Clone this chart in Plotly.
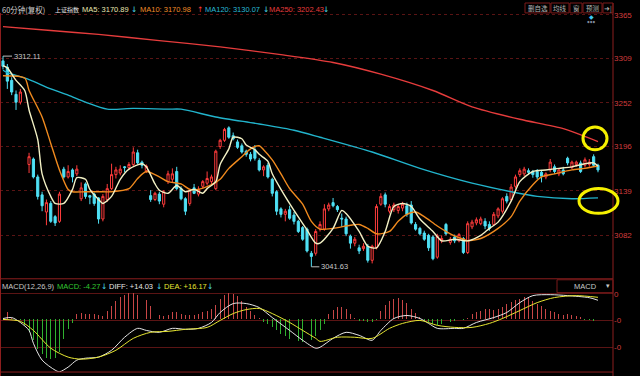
import plotly.graph_objects as go

# ---------------- data ----------------
bar_idx = [0, 1, 2, 3, 4] + list(range(6, 138))

candles = [  # open, high, low, close
    (3306, 3312.11, 3295, 3299), (3298, 3302, 3270, 3280), (3281, 3285, 3262, 3266),
    (3263, 3268, 3243, 3253), (3253, 3270, 3250, 3266),
    (3173, 3188, 3162, 3183), (3180, 3182, 3155, 3157), (3157, 3160, 3128, 3132),
    (3134, 3138, 3113, 3120), (3112, 3128, 3095, 3124), (3123, 3126, 3098, 3100),
    (3106, 3108, 3094, 3098), (3100, 3138, 3098, 3135), (3167, 3170, 3155, 3157),
    (3157, 3172, 3155, 3164), (3166, 3168, 3150, 3157), (3161, 3172, 3158, 3167),
    (3129, 3150, 3126, 3143), (3148, 3150, 3129, 3132), (3133, 3134, 3122, 3131),
    (3135, 3137, 3120, 3123), (3130, 3131, 3097, 3103), (3103, 3135, 3100, 3132),
    (3128, 3148, 3125, 3142), (3142, 3174, 3140, 3160), (3160, 3170, 3155, 3166),
    (3162, 3172, 3159, 3167), (3170, 3171, 3163, 3169), (3169, 3176, 3166, 3173),
    (3173, 3195, 3170, 3189), (3188, 3192, 3173, 3175), (3176, 3178, 3168, 3172),
    (3165, 3173, 3162, 3171), (3133, 3140, 3125, 3128), (3128, 3138, 3126, 3136),
    (3135, 3138, 3122, 3126), (3122, 3140, 3118, 3138), (3151, 3165, 3148, 3161),
    (3154, 3168, 3150, 3161), (3164, 3170, 3140, 3142), (3142, 3145, 3127, 3129),
    (3129, 3131, 3108, 3113), (3123, 3142, 3120, 3140), (3143, 3148, 3135, 3136),
    (3135, 3145, 3132, 3141), (3145, 3153, 3142, 3151), (3149, 3164, 3146, 3155),
    (3151, 3160, 3148, 3157), (3142, 3192, 3140, 3190), (3196, 3206, 3193, 3204),
    (3204, 3220, 3202, 3218), (3220, 3222, 3206, 3208), (3210, 3214, 3204, 3206),
    (3202, 3205, 3193, 3195), (3197, 3200, 3187, 3189), (3190, 3192, 3183, 3186),
    (3186, 3189, 3177, 3180), (3192, 3198, 3178, 3181), (3178, 3181, 3164, 3166),
    (3166, 3172, 3158, 3170), (3172, 3175, 3155, 3157), (3154, 3156, 3132, 3136),
    (3138, 3140, 3108, 3113), (3116, 3118, 3105, 3109), (3109, 3116, 3100, 3113),
    (3115, 3120, 3102, 3104), (3108, 3112, 3096, 3100), (3100, 3102, 3085, 3087),
    (3092, 3094, 3075, 3077), (3090, 3092, 3060, 3062), (3059, 3062, 3041.63, 3055),
    (3059, 3090, 3056, 3087), (3090, 3100, 3087, 3096), (3090, 3122, 3088, 3116),
    (3116, 3124, 3113, 3121), (3124, 3130, 3118, 3120), (3119, 3121, 3112, 3115),
    (3104, 3110, 3093, 3103), (3103, 3106, 3081, 3084), (3081, 3083, 3065, 3072),
    (3072, 3080, 3068, 3077), (3066, 3070, 3058, 3062), (3065, 3072, 3062, 3068),
    (3068, 3071, 3047, 3050), (3050, 3070, 3046, 3068), (3066, 3122, 3064, 3119),
    (3122, 3136, 3120, 3132), (3134, 3137, 3118, 3122), (3113, 3122, 3110, 3119),
    (3115, 3124, 3112, 3121), (3114, 3122, 3110, 3119), (3117, 3125, 3113, 3122),
    (3120, 3124, 3106, 3109), (3121, 3126, 3096, 3098), (3096, 3099, 3088, 3090),
    (3091, 3093, 3082, 3084), (3085, 3088, 3075, 3077), (3082, 3084, 3062, 3066),
    (3080, 3082, 3050, 3052), (3054, 3084, 3052, 3081), (3075, 3082, 3072, 3078),
    (3096, 3098, 3082, 3084), (3073, 3080, 3070, 3077), (3080, 3083, 3072, 3075),
    (3075, 3085, 3073, 3083), (3078, 3080, 3058, 3060), (3060, 3100, 3058, 3097),
    (3093, 3102, 3090, 3099), (3098, 3105, 3095, 3102), (3097, 3106, 3095, 3103),
    (3100, 3104, 3090, 3094), (3096, 3100, 3088, 3091), (3096, 3112, 3094, 3109),
    (3107, 3118, 3104, 3116), (3113, 3131, 3110, 3129), (3132, 3136, 3123, 3126),
    (3128, 3148, 3126, 3144), (3145, 3160, 3142, 3157), (3160, 3168, 3157, 3165),
    (3161, 3170, 3158, 3167), (3165, 3168, 3160, 3163), (3164, 3166, 3156, 3160),
    (3164, 3167, 3154, 3157), (3163, 3166, 3150, 3158), (3157, 3163, 3154, 3161),
    (3166, 3180, 3163, 3176), (3170, 3173, 3161, 3164), (3161, 3168, 3158, 3166),
    (3166, 3170, 3159, 3161), (3181, 3183, 3172, 3175), (3169, 3178, 3167, 3176),
    (3173, 3178, 3170, 3176), (3175, 3178, 3162, 3164), (3172, 3182, 3169, 3179),
    (3173, 3180, 3170, 3176), (3183, 3186, 3170, 3172), (3172, 3174, 3163, 3166),
]
opens = [c[0] for c in candles]
highs = [c[1] for c in candles]
lows = [c[2] for c in candles]
closes = [c[3] for c in candles]

ma5_idx = [0, 1, 3, 5, 6, 8, 9, 11, 12, 14, 16, 17, 19, 20, 22, 23, 25, 27, 29, 32, 33, 35, 36, 38,
           40, 42, 44, 46, 47, 49, 50, 52, 53, 55, 56, 58, 59, 61, 62, 64, 67, 70, 72, 73, 76, 78,
           79, 82, 84, 86, 88, 90, 92, 94, 96, 99, 101, 104, 107, 110, 112, 114, 117, 119, 122,
           125, 128, 131, 134, 136, 137]
ma5 = [3300, 3297, 3281, 3268, 3243, 3205, 3161, 3132, 3123, 3123, 3141, 3156, 3154, 3141, 3128,
       3123, 3132, 3154, 3167, 3174, 3170, 3148, 3140, 3136, 3146, 3138, 3141, 3136, 3142, 3151,
       3173, 3193, 3208, 3206, 3198, 3192, 3186, 3177, 3161, 3141, 3114, 3089, 3072, 3072, 3091,
       3114, 3110, 3087, 3068, 3066, 3087, 3119, 3123, 3119, 3103, 3087, 3075, 3077, 3075, 3082,
       3091, 3099, 3126, 3151, 3164, 3166, 3168, 3170, 3174, 3175, 3170.89]

ma10_idx = [0, 5, 6, 9, 11, 13, 15, 16, 19, 22, 25, 29, 31, 33, 36, 38, 41, 43, 45, 48, 50, 52, 55,
            57, 59, 60, 62, 64, 66, 69, 71, 73, 76, 80, 82, 84, 86, 89, 91, 93, 95, 97, 100, 103,
            106, 107, 110, 114, 117, 119, 122, 124, 127, 131, 134, 137]
ma10 = [3287, 3284, 3268, 3234, 3200, 3166, 3141, 3138, 3138, 3138, 3138, 3142, 3155, 3164, 3157,
        3151, 3148, 3141, 3141, 3147, 3154, 3168, 3183, 3193, 3197, 3192, 3179, 3161, 3142, 3122,
        3100, 3090, 3091, 3095, 3096, 3091, 3084, 3087, 3100, 3109, 3112, 3106, 3094, 3084, 3077,
        3075, 3078, 3091, 3106, 3126, 3147, 3157, 3161, 3166, 3168, 3170.98]

ma120_idx = [0, 1, 6, 11, 15, 19, 24, 30, 38, 41, 49, 59, 67, 73, 85, 96, 108, 117, 123, 131, 137]
ma120 = [3294, 3291, 3282, 3270, 3262, 3253, 3244, 3245, 3244, 3244, 3234, 3225, 3217, 3208, 3189,
         3168, 3149, 3138, 3132, 3129, 3130.07]

ma250_idx = [0, 11, 22, 36, 50, 64, 76, 87, 99, 108, 119, 129, 137]
ma250 = [3350, 3345, 3340, 3332, 3324, 3314, 3304, 3289, 3268, 3247, 3231, 3219, 3202.43]

diff_idx = [0, 2, 4, 6, 7, 9, 12, 13, 15, 17, 19, 22, 25, 28, 31, 33, 36, 39, 42, 45, 48, 50, 53,
            56, 59, 62, 66, 69, 72, 73, 76, 79, 82, 85, 87, 90, 93, 96, 98, 100, 104, 106, 109,
            113, 116, 119, 122, 126, 130, 135, 137]
diff = [0.7, 1.4, -2.2, -8, -17.4, -29.7, -37, -38.2, -34.8, -29.7, -28.3, -27.5, -22.5, -13,
        -6.5, -8, -9.4, -6.5, -7.2, -6.5, -2.2, 5.1, 11.6, 11.6, 8.7, 1.4, -8, -15.2, -21, -20.3,
        -13.8, -9.4, -11.6, -15.2, -8, 0.7, 2.9, 0.7, -2.9, -6.5, -6.5, -6.5, -2.2, 1.4, 5.1,
        12.3, 17.4, 18.1, 17.4, 15.9, 14.03]

dea_idx = [0, 4, 7, 11, 15, 18, 22, 26, 30, 34, 38, 42, 47, 50, 53, 56, 59, 62, 66, 69, 72, 73, 77,
           81, 85, 89, 92, 96, 100, 104, 108, 112, 115, 119, 123, 127, 132, 137]
dea = [0, -1.4, -8, -21, -27.5, -29, -27.5, -22.5, -13.8, -9.4, -8.7, -7.2, -5.8, -0.7, 4.3, 7.2,
       8, 4.3, -2.2, -8, -13.8, -16, -13, -13, -13.8, -6.5, -2.9, -0.7, -4.3, -5.8, -5.8, -2.9,
       0.7, 6.5, 12.3, 16, 17.4, 16.17]

macd_hist = [7.0, 5.3, 1.2, 0.5, -0.5, -4.3, -9.2, -15.2, -21.3, -25.4, -27.8, -29.2, -28.5, -23.7,
             -14.0, -6.8, -2.7, 4.1, 4.8, 4.1, 4.1, 4.1, 2.9, 2.2, 6.5, 10.1, 13.8, 16.2, 18.1,
             19.1, 19.1, 18.1, 16.2, 14.3, 10.1, 5.3, 2.9, 2.2, 2.9, 5.3, 5.3, 4.1, 2.9, 2.9, 3.6,
             4.1, 5.3, 6.0, 7.7, 10.9, 15.0, 18.1, 19.1, 18.6, 16.9, 13.8, 9.4, 6.5, 3.4, 1.2,
             -1.9, -3.1, -5.6, -8.0, -10.4, -12.3, -14.0, -15.2, -15.9, -16.4, -15.7, -14.7,
             -12.3, -8.0, -3.0, 4.1, 7.0, 8.9, 9.4, 7.7, 4.1, 1.2, -1.2, -1.2, -1.7, -1.9, -0.2,
             6.5, 10.9, 13.8, 15.2, 15.5, 14.3, 11.8, 7.7, 4.6, 1.7, -1.2, -1.9, -3.1, -4.1, -3.6,
             -2.7, -1.9, -1.2, -0.7, -0.7, 1.2, 4.1, 5.3, 6.5, 7.5, 7.7, 7.0, 7.5, 9.4, 11.4, 13.0,
             14.3, 15.0, 16.7, 16.2, 13.8, 11.4, 10.1, 7.7, 6.5, 5.3, 4.1, 3.6, 4.1, 3.6, 2.7, 1.7,
             -0.7, -0.7, -1.0, -4.27]
hist_idx = list(range(len(macd_hist)))

price_ticks = [3082, 3139, 3196, 3252, 3309, 3365]
macd_tickvals = [18.8, -0.7, -20.3]
macd_ticktext = ["0", "-0", "-0"]

# ---------------- styling ----------------
W, H = 640, 376
RED = "#FF3C3C"
CYAN = "#4FE0F5"
BORDER = "#8C1E1E"
GRID = "#5A1414"
LAT = "Liberation Sans, Arial, sans-serif"
CJK = "Noto Sans CJK SC, sans-serif"
ARW = "DejaVu Sans, sans-serif"


def px(x):
    return x / W


def py(y):
    return 1 - y / H


fig = go.Figure()

fig.add_trace(go.Candlestick(
    x=bar_idx, open=opens, high=highs, low=lows, close=closes,
    increasing=dict(line=dict(color=RED, width=1), fillcolor="#000000"),
    decreasing=dict(line=dict(color=CYAN, width=1), fillcolor=CYAN),
    whiskerwidth=0, hoverinfo="skip", xaxis="x", yaxis="y"))

for idx, vals, col in [(ma250_idx, ma250, "#E63C3C"), (ma120_idx, ma120, "#22B4CC"),
                       (ma10_idx, ma10, "#F08A1E"), (ma5_idx, ma5, "#F2F0C4")]:
    fig.add_trace(go.Scatter(x=idx, y=vals, mode="lines", xaxis="x", yaxis="y",
                             line=dict(color=col, width=1.4, shape="spline", smoothing=0.7),
                             hoverinfo="skip"))

hist_colors = ["#C84646" if v >= 0 else "#30B030" for v in macd_hist]
fig.add_trace(go.Bar(x=hist_idx, y=macd_hist, width=0.22,
                     marker=dict(color=hist_colors, line=dict(width=0)),
                     xaxis="x2", yaxis="y2", hoverinfo="skip"))
fig.add_trace(go.Scatter(x=diff_idx, y=diff, mode="lines", xaxis="x2", yaxis="y2",
                         line=dict(color="#E6E6E6", width=1, shape="spline", smoothing=0.8),
                         hoverinfo="skip"))
fig.add_trace(go.Scatter(x=dea_idx, y=dea, mode="lines", xaxis="x2", yaxis="y2",
                         line=dict(color="#E6E632", width=1, shape="spline", smoothing=0.8),
                         hoverinfo="skip"))

# axis geometry
x_right_px = 613
r0 = -3 / 4.343
r1 = r0 + x_right_px / 4.343
main_top, main_bot = 10, 278
macd_top, macd_bot = 292, 372
p_top = 3380.3 - 1.2735 * main_top
p_bot = 3380.3 - 1.2735 * main_bot
m_top = (319 - macd_top) / 1.38
m_bot = (319 - macd_bot) / 1.38

xdom = [0, px(x_right_px)]
fig.update_layout(
    width=W, height=H, margin=dict(l=0, r=0, t=0, b=0),
    paper_bgcolor="#000000", plot_bgcolor="#000000", showlegend=False,
    bargap=0,
    xaxis=dict(domain=xdom, range=[r0, r1], showgrid=False, zeroline=False,
               showticklabels=False, ticks="", rangeslider=dict(visible=False), anchor="y"),
    xaxis2=dict(domain=xdom, range=[r0, r1], matches="x", showgrid=False, zeroline=False,
                showticklabels=False, ticks="", anchor="y2"),
    yaxis=dict(domain=[py(main_bot), py(main_top)], range=[p_bot, p_top], side="right",
               tickvals=price_ticks, ticktext=[str(t) for t in price_ticks],
               tickfont=dict(family=LAT, size=8, color="#D23C3C"), ticks="",
               ticklabeloverflow="allow",
               showgrid=True, gridcolor=GRID, griddash="dot", gridwidth=1,
               zeroline=False, showline=False, anchor="x", fixedrange=True),
    yaxis2=dict(domain=[py(macd_bot), py(macd_top)], range=[m_bot, m_top], side="right",
                tickvals=macd_tickvals, ticktext=macd_ticktext,
                tickfont=dict(family=LAT, size=8, color="#D23C3C"), ticks="",
                ticklabeloverflow="allow",
                showgrid=True, gridcolor=GRID, gridwidth=1,
                zeroline=False, showline=False, anchor="x2", fixedrange=True),
)

shapes = []
# frame lines
shapes.append(dict(type="line", xref="paper", yref="paper", x0=px(x_right_px), x1=px(x_right_px),
                   y0=py(0), y1=py(376), line=dict(color=BORDER, width=1)))
shapes.append(dict(type="line", xref="paper", yref="paper", x0=px(0.5), x1=px(0.5),
                   y0=py(10), y1=py(376), line=dict(color=BORDER, width=1)))
for yy in (main_bot, macd_bot):
    shapes.append(dict(type="line", xref="paper", yref="paper", x0=0, x1=px(x_right_px),
                       y0=py(yy), y1=py(yy), line=dict(color=BORDER, width=1)))
# toolbar boxes
boxes = [(525, 550, "删自选"), (551, 569, "均线"), (570, 582, "窗"), (583, 602, "预测"), (603, 613, "➜|")]
for x0, x1, _ in boxes:
    shapes.append(dict(type="rect", xref="paper", yref="paper", x0=px(x0), x1=px(x1),
                       y0=py(10), y1=py(0), line=dict(color="#7A1A1A", width=1)))
# MACD selector box
shapes.append(dict(type="rect", xref="paper", yref="paper", x0=px(557), x1=px(613),
                   y0=py(292), y1=py(279), line=dict(color="#7A1A1A", width=1)))
# highlight ellipses
shapes.append(dict(type="circle", xref="paper", yref="paper", x0=px(583), x1=px(607),
                   y0=py(148), y1=py(125), line=dict(color="#F5F000", width=3)))
shapes.append(dict(type="circle", xref="paper", yref="paper", x0=px(579), x1=px(618),
                   y0=py(212), y1=py(187), line=dict(color="#F5F000", width=3)))
fig.update_layout(shapes=shapes)

ann = []


def text(x, y, s, color, size=7.5, family=LAT, anchor="left"):
    ann.append(dict(x=px(x), y=py(y), xref="paper", yref="paper", text=s, showarrow=False,
                    xanchor=anchor, yanchor="middle", font=dict(family=family, size=size, color=color)))


# header
text(0, 6.5, "60分钟(复权)", "#D0D0D0", 7.5, CJK)
text(53, 6.5, "上证指数", "#E6E6E6", 6, CJK)
text(80, 6.5, "MA5: 3170.89", "#E8E6B0")
text(129, 6.5, "↓", CYAN, 7.5, ARW)
text(138, 6.5, "MA10: 3170.98", "#F08C28")
text(195, 6.5, "↑", RED, 7.5, ARW)
text(203, 6.5, "MA120: 3130.07", "#28B8D6")
text(261, 6.5, "↓", CYAN, 7.5, ARW)
text(267, 6.5, "MA250: 3202.43", "#E63C3C")
text(321, 6.5, "↓", CYAN, 7.5, ARW)
# toolbar text
for x0, x1, s in boxes:
    text((x0 + x1) / 2, 5, s, "#B4B4B4", 6.5, CJK, "center")
text(591, 14, "◆", "#3CC8F0", 6, ARW, "center")
text(591, 19.5, "◆◆◆", "#8A96A8", 3.5, ARW, "center")
# MACD header
text(0, 286, "MACD(12,26,9)", "#C8C8C8")
text(55, 286, "MACD: -4.27", "#32C832")
text(99, 286, "↓", CYAN, 7.5, ARW)
text(107, 286, "DIFF: +14.03", "#E6E6E6")
text(154, 286, "↓", CYAN, 7.5, ARW)
text(162, 286, "DEA: +16.17", "#E6E632")
text(205, 286, "↓", CYAN, 7.5, ARW)
text(585, 285.5, "MACD", "#C8C8C8", 7.5, LAT, "center")
text(608, 285.5, "▾", "#C8C8C8", 7, ARW, "center")

# high / low marks
ann.append(dict(x=bar_idx[0], y=highs[0], xref="x", yref="y", text="3312.11", showarrow=True,
                arrowhead=0, arrowwidth=1, arrowcolor="#BEBEBE", ax=9, ay=0, xanchor="left",
                font=dict(family=LAT, size=7.5, color="#C8C8C8"), standoff=0))
low_i = lows.index(min(lows))
ann.append(dict(x=bar_idx[low_i], y=lows[low_i], xref="x", yref="y", text="3041.63", showarrow=True,
                arrowhead=0, arrowwidth=1, arrowcolor="#BEBEBE", ax=8, ay=0, xanchor="left",
                font=dict(family=LAT, size=7.5, color="#C8C8C8"), standoff=0))

fig.update_layout(annotations=ann)
fig.write_html("out.html", config={"displayModeBar": False, "staticPlot": True},
               post_script="document.body.style.margin='0';document.body.style.overflow='hidden';")
